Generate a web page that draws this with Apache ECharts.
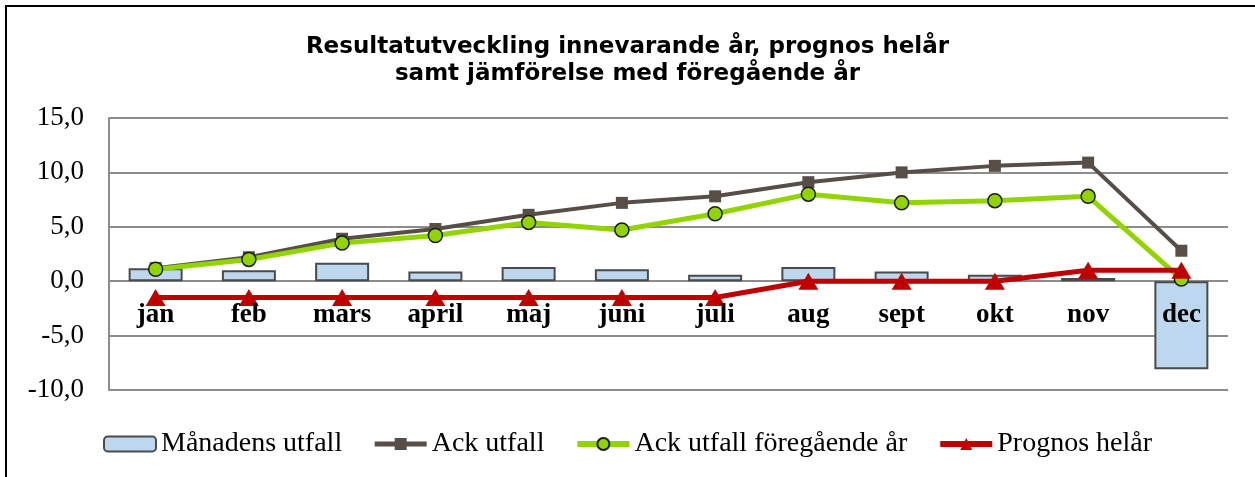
<!DOCTYPE html>
<html>
<head>
<meta charset="utf-8">
<script src="https://cdn.jsdelivr.net/npm/echarts@6/dist/echarts.min.js"></script>
<style>
  html, body { margin: 0; padding: 0; background: #fff; }
  #chart { width: 1255px; height: 477px; }
</style>
</head>
<body>
<div id="chart"></div>
<script>
// månader
const months = ['jan', 'feb', 'mars', 'april', 'maj', 'juni', 'juli', 'aug', 'sept', 'okt', 'nov', 'dec'];
// Månadens utfall
const manadensUtfall = [1.2, 1.0, 1.7, 0.9, 1.3, 1.1, 0.6, 1.3, 0.9, 0.6, 0.3, -8.1];
// Ack utfall
const ackUtfall = [1.2, 2.2, 3.9, 4.8, 6.1, 7.2, 7.8, 9.1, 10.0, 10.6, 10.9, 2.8];
// Ack utfall föregående år
const ackForegaende = [1.1, 2.0, 3.5, 4.2, 5.4, 4.7, 6.2, 8.0, 7.2, 7.4, 7.8, 0.2];
// Prognos helår
const prognos = [-1.5, -1.5, -1.5, -1.5, -1.5, -1.5, -1.5, 0, 0, 0, 1.0, 1.0];

const serif = '"Liberation Serif", "Times New Roman", serif';

let chart = echarts.init(document.getElementById('chart'), null, {renderer: 'canvas'});
let option = {
  backgroundColor: '#fff',
  animation: false,
  title: {
    text: 'Resultatutveckling innevarande år, prognos helår\nsamt jämförelse med föregående år',
    left: 'center',
    top: 29,
    textStyle: {
      fontFamily: '"DejaVu Sans", Verdana, sans-serif',
      fontWeight: 'bold',
      fontSize: 23,
      lineHeight: 27,
      color: '#000'
    }
  },
  graphic: [{
    type: 'rect',
    shape: {x: 6, y: 6, width: 1260, height: 490},
    style: {fill: 'none', stroke: '#000', lineWidth: 2},
    silent: true
  }],
  legend: {
    left: 98,
    top: 425,
    itemWidth: 52,
    itemHeight: 15,
    itemGap: 30,
    textStyle: {fontFamily: serif, fontSize: 28, color: '#000'},
    data: [
      {name: 'Månadens utfall'},
      {name: 'Ack utfall', lineStyle: {width: 5}},
      {name: 'Ack utfall föregående år', lineStyle: {width: 6}},
      {name: 'Prognos helår', lineStyle: {width: 6}}
    ]
  },
  grid: {left: 109, right: 27, top: 118, bottom: 87},
  xAxis: {
    type: 'category',
    data: months,
    z: 5,
    // etiketterna ligger vid nollinjen
    offset: -109,
    axisLine: {show: false},
    axisTick: {show: false},
    axisLabel: {
      margin: 21,
      fontFamily: serif,
      fontWeight: 'bold',
      fontSize: 27,
      color: '#000'
    },
    splitLine: {show: false}
  },
  yAxis: {
    type: 'value',
    min: -10,
    max: 15,
    interval: 5,
    axisLine: {show: true, lineStyle: {color: '#8c8c8c', width: 2}},
    axisTick: {show: false},
    axisLabel: {
      margin: 25,
      fontFamily: serif,
      fontSize: 27,
      color: '#000',
      formatter: v => v.toFixed(1).replace('.', ',')
    },
    splitLine: {lineStyle: {color: '#8c8c8c', width: 2}}
  },
  series: [
    {
      name: 'Månadens utfall',
      type: 'bar',
      data: manadensUtfall,
      barWidth: 54,
      itemStyle: {color: '#BDD7EE', borderColor: '#4a4a4a', borderWidth: 2}
    },
    {
      name: 'Ack utfall',
      type: 'line',
      data: ackUtfall,
      symbol: 'rect',
      symbolSize: 12,
      lineStyle: {color: '#574E47', width: 4},
      itemStyle: {color: '#574E47'}
    },
    {
      name: 'Ack utfall föregående år',
      type: 'line',
      data: ackForegaende,
      symbol: 'circle',
      symbolSize: 14,
      lineStyle: {color: '#92D400', width: 5},
      itemStyle: {color: '#92D400', borderColor: '#1a1a1a', borderWidth: 1.5}
    },
    {
      name: 'Prognos helår',
      type: 'line',
      data: prognos,
      symbol: 'triangle',
      symbolSize: [20, 17],
      lineStyle: {color: '#C00000', width: 5},
      itemStyle: {color: '#C00000'}
    }
  ]
};
chart.setOption(option);
</script>
</body>
</html>
